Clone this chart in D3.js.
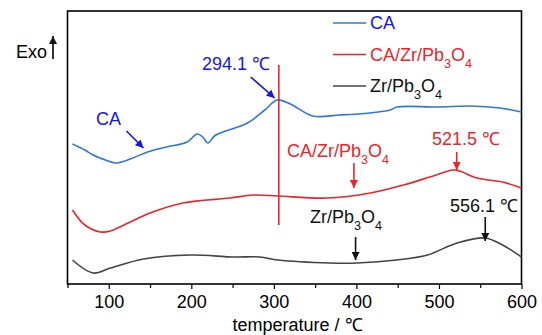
<!DOCTYPE html>
<html>
<head>
<meta charset="utf-8">
<script src="https://cdn.jsdelivr.net/npm/d3@7/dist/d3.min.js"></script>
<style>
  body { margin: 0; background: #fff; }
  text { font-family: "Liberation Sans", Arial, sans-serif; }
</style>
</head>
<body>
<svg id="dsc" width="542" height="335"></svg>
<script>
// DSC curves (heat flow in arbitrary units, offset per curve)
var caTemp  = [56, 71, 81, 96, 108, 126, 147, 170, 195, 207, 214, 220, 228, 235, 268, 289, 304, 320, 347, 380, 416, 441, 449, 498, 538, 574, 600];
var caVal   = [140, 134, 129, 124, 121, 125, 132, 137, 142, 150, 147, 141, 148, 151, 161, 174, 184, 180, 168, 169, 171, 174, 177, 177, 178, 176, 172];
var czpTemp = [56, 71, 90, 102, 126, 150, 190, 247, 275, 305, 364, 417, 457, 489, 517, 525, 546, 577, 600];
var czpVal  = [74, 59, 52, 53, 62, 71, 81, 86, 89, 88, 86, 91, 99, 107, 114, 113, 106, 102, 96];
var zpTemp  = [56, 81, 102, 142, 199, 251, 283, 305, 368, 401, 449, 486, 522, 556, 577, 600];
var zpVal   = [24, 11, 16, 25, 29, 27, 27, 24, 21, 21, 24, 29, 41, 46, 39, 27];

var xMajor = [100, 200, 300, 400, 500, 600];
var xMinor = [50, 150, 250, 350, 450, 550];
var xDomain = [50, 600];
var yDomain = [0, 273];

var seriesNames = ["CA", "CA/Zr/Pb_3O_4", "Zr/Pb_3O_4"];
var lineColors = ["#2f78d8", "#e8262a", "#444444"];
var textColors = ["#1515e8", "#e8262a", "#111111"];

var markerTemp = 306, markerRange = [59, 219];

var width = 542, height = 335;
var margin = {top: 11, right: 20.5, bottom: 51, left: 67.5};
var fs = 18;

var x = d3.scaleLinear().domain(xDomain).range([margin.left, width - margin.right]);
var y = d3.scaleLinear().domain(yDomain).range([height - margin.bottom, margin.top]);

var svg = d3.select("#dsc");

var defs = svg.append("defs");
textColors.forEach(function(c, i) {
  defs.append("marker")
      .attr("id", "ah" + i)
      .attr("viewBox", "0 0 10 10")
      .attr("refX", 10).attr("refY", 5)
      .attr("markerWidth", 10).attr("markerHeight", 8)
      .attr("markerUnits", "userSpaceOnUse")
      .attr("orient", "auto")
    .append("path")
      .attr("d", "M0,0L10,5L0,10Z")
      .attr("fill", c);
});

// label with _n subscripts
function label(g, str, xx, yy, color, size, anchor) {
  var t = g.append("text")
      .attr("x", xx).attr("y", yy)
      .attr("fill", color)
      .attr("font-size", size)
      .attr("text-anchor", anchor || "start");
  var parts = str.split(/(_\d)/);
  var down = false;
  parts.forEach(function(p) {
    if (!p) return;
    if (p[0] == "_") {
      t.append("tspan").attr("dy", down ? 0 : 7).attr("font-size", size * 0.7).text(p.slice(1));
      down = true;
    } else {
      t.append("tspan").attr("dy", down ? -7 : 0).text(p);
      down = false;
    }
  });
  return t;
}

// axes
svg.append("g")
    .attr("transform", "translate(0," + (height - margin.bottom) + ")")
    .call(d3.axisBottom(x).tickValues(xMinor).tickSize(4).tickSizeOuter(0).tickFormat(""))
    .call(function(g) { g.select(".domain").remove(); g.selectAll("line").attr("stroke-width", 1.2); });

var xa = svg.append("g")
    .attr("transform", "translate(0," + (height - margin.bottom) + ")")
    .call(d3.axisBottom(x).tickValues(xMajor).tickSize(5).tickPadding(6).tickSizeOuter(0));
xa.select(".domain").remove();
xa.selectAll("line").attr("stroke-width", 1.2);
xa.selectAll("text")
    .attr("font-size", fs)
    .attr("font-family", "'Liberation Sans', Arial, sans-serif")
    .attr("fill", "#000");

svg.append("rect")
    .attr("x", margin.left).attr("y", margin.top)
    .attr("width", width - margin.left - margin.right)
    .attr("height", height - margin.top - margin.bottom)
    .attr("fill", "none").attr("stroke", "#000").attr("stroke-width", 1.6);

svg.append("text")
    .attr("x", (margin.left + width - margin.right) / 2 + 3)
    .attr("y", height - 4)
    .attr("text-anchor", "middle")
    .attr("font-size", fs)
    .text("temperature / \u2103");

svg.append("text")
    .attr("x", 16).attr("y", 58)
    .attr("font-size", fs)
    .text("Exo");
svg.append("line")
    .attr("x1", 53).attr("x2", 53).attr("y1", 59).attr("y2", 36)
    .attr("stroke", "#000").attr("stroke-width", 1.6)
    .attr("marker-end", "url(#ah2)");

// curves
var series = [[caTemp, caVal], [czpTemp, czpVal], [zpTemp, zpVal]];
var line = d3.line()
    .x(function(d) { return x(d[0]); })
    .y(function(d) { return y(d[1]); })
    .curve(d3.curveCatmullRom.alpha(0.5));

series.forEach(function(s, i) {
  svg.append("path")
      .datum(d3.zip(s[0], s[1]))
      .attr("fill", "none")
      .attr("stroke", lineColors[i])
      .attr("stroke-width", 1.6)
      .attr("d", line);
});

svg.append("line")
    .attr("x1", x(markerTemp)).attr("x2", x(markerTemp))
    .attr("y1", y(markerRange[0])).attr("y2", y(markerRange[1]))
    .attr("stroke", "#e8262a").attr("stroke-width", 1.6);

// legend
var leg = svg.append("g");
seriesNames.forEach(function(n, i) {
  var ly = 23 + i * 31.5;
  leg.append("line")
      .attr("x1", 333).attr("x2", 366)
      .attr("y1", ly).attr("y2", ly)
      .attr("stroke", lineColors[i]).attr("stroke-width", 1.6);
  label(leg, n, 370, ly + 6, textColors[i], fs);
});

// annotations: tip at (temp, value), tail offset in px, text position
var notes = [
  {text: "CA", t: 142, v: 136, dx: -17, dy: -17, tx: 96, ty: 125, c: 0},
  {text: "294.1 \u2103", t: 301, v: 186, dx: -24, dy: -21, tx: 202, ty: 70, c: 0},
  {text: "CA/Zr/Pb_3O_4", t: 397, v: 96, dx: 0, dy: -25, tx: 287, ty: 157, c: 1},
  {text: "521.5  \u2103", t: 521.5, v: 114, dx: 0, dy: -18, tx: 432, ty: 145, c: 1},
  {text: "Zr/Pb_3O_4", t: 399, v: 24, dx: 0, dy: -23, tx: 310, ty: 223, c: 2},
  {text: "556.1 \u2103", t: 556.1, v: 43, dx: 0, dy: -24, tx: 450, ty: 212, c: 2}
];

notes.forEach(function(d) {
  var px = x(d.t), py = y(d.v);
  svg.append("line")
      .attr("x1", px + d.dx).attr("y1", py + d.dy)
      .attr("x2", px).attr("y2", py)
      .attr("stroke", textColors[d.c]).attr("stroke-width", 1.6)
      .attr("marker-end", "url(#ah" + d.c + ")");
  label(svg, d.text, d.tx, d.ty, textColors[d.c], fs);
});
</script>
</body>
</html>
